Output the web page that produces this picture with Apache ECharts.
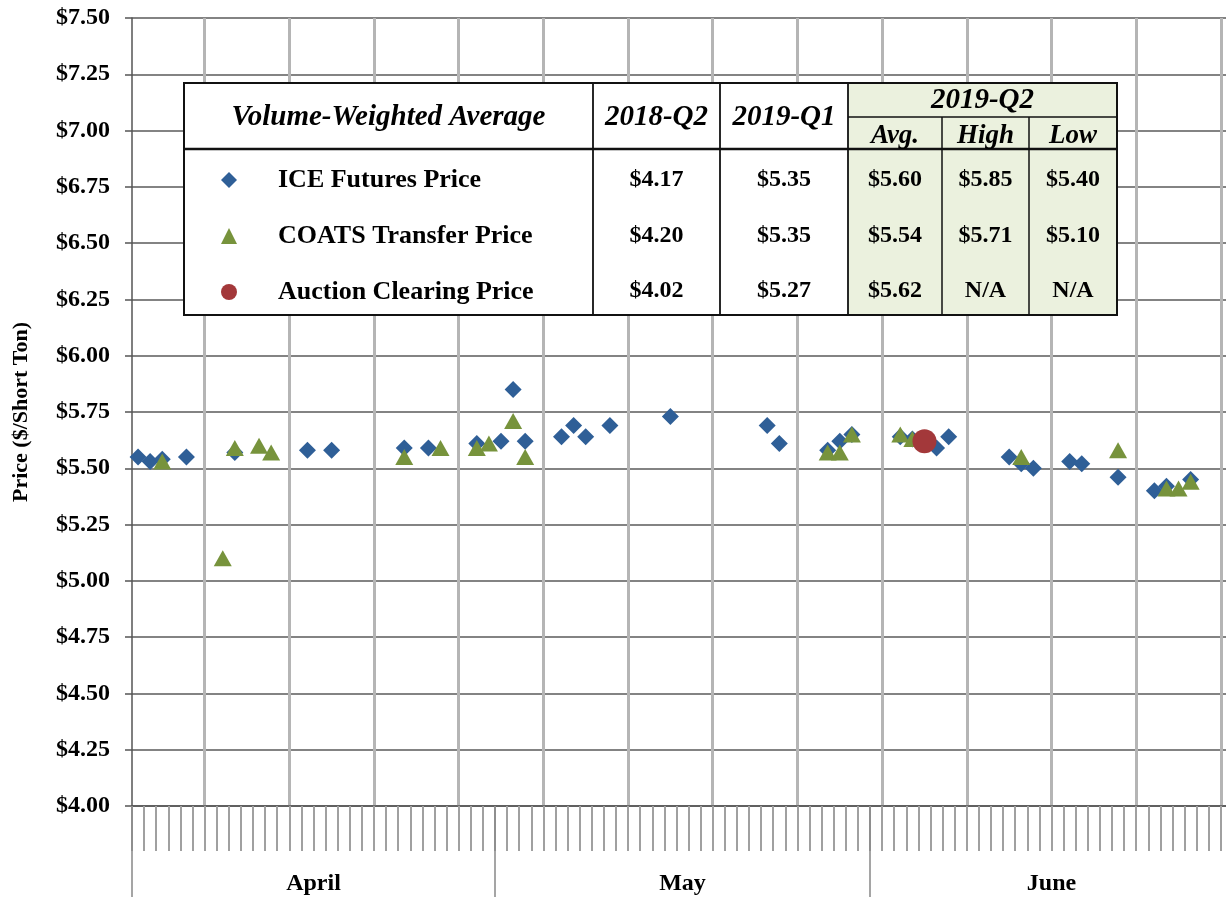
<!DOCTYPE html>
<html>
<head>
<meta charset="utf-8">
<title>Volume-Weighted Prices 2019-Q2</title>
<script src="https://cdn.jsdelivr.net/npm/echarts@6/dist/echarts.min.js"></script>
<style>
  html, body { margin: 0; padding: 0; background: #fff; }
  #chart { width: 1226px; height: 897px; }
</style>
</head>
<body>
<div id="chart"></div>
<script>
// months on the x axis
const months = ["April", "May", "June"];
const monthAbbr = ["Apr", "May", "Jun"];
const monthLengths = [30, 31, 30];

// ICE futures price (diamonds)
const iceDates = ["Apr 1", "Apr 2", "Apr 3", "Apr 5", "Apr 9", "Apr 15", "Apr 17", "Apr 23", "Apr 25", "Apr 29",
  "May 1", "May 2", "May 3", "May 6", "May 7", "May 8", "May 10", "May 15", "May 23", "May 24", "May 28", "May 29", "May 30",
  "Jun 3", "Jun 4", "Jun 6", "Jun 7", "Jun 12", "Jun 13", "Jun 14", "Jun 17", "Jun 18", "Jun 21", "Jun 24", "Jun 25", "Jun 27"];
const iceValues = [5.55, 5.53, 5.54, 5.55, 5.57, 5.58, 5.58, 5.59, 5.59, 5.61,
  5.62, 5.85, 5.62, 5.64, 5.69, 5.64, 5.69, 5.73, 5.69, 5.61, 5.58, 5.62, 5.65,
  5.64, 5.63, 5.59, 5.64, 5.55, 5.52, 5.50, 5.53, 5.52, 5.46, 5.40, 5.42, 5.45];

// COATS transfer price (triangles)
const coatsDates = ["Apr 3", "Apr 8", "Apr 9", "Apr 11", "Apr 12", "Apr 23", "Apr 26", "Apr 29", "Apr 30",
  "May 2", "May 3", "May 28", "May 29", "May 30",
  "Jun 3", "Jun 4", "Jun 5", "Jun 13", "Jun 21", "Jun 25", "Jun 26", "Jun 27"];
const coatsValues = [5.53, 5.10, 5.59, 5.60, 5.57, 5.55, 5.59, 5.59, 5.61,
  5.71, 5.55, 5.57, 5.57, 5.65,
  5.65, 5.63, 5.62, 5.55, 5.58, 5.41, 5.41, 5.44];

// auction clearing price (circle)
const auctionDates = ["Jun 5"];
const auctionValues = [5.62];

// y ticks
const yMin = 4, yMax = 7.5, yStep = 0.25;

// summary table
const seriesNames = ["ICE Futures Price", "COATS Transfer Price", "Auction Clearing Price"];
const avg2018Q2 = ["$4.17", "$4.20", "$4.02"];
const avg2019Q1 = ["$5.35", "$5.35", "$5.27"];
const avg2019Q2 = ["$5.60", "$5.54", "$5.62"];
const high2019Q2 = ["$5.85", "$5.71", "N/A"];
const low2019Q2 = ["$5.40", "$5.10", "N/A"];

// day categories
let days = [];
months.forEach((m, i) => {
  for (let d = 1; d <= monthLengths[i]; d++) days.push(monthAbbr[i] + " " + d);
});
let bounds = [0];
monthLengths.forEach(n => bounds.push(bounds[bounds.length - 1] + n));
let centers = monthLengths.map((n, i) => bounds[i] + n / 2);
const nDays = bounds[bounds.length - 1];

const serif = "Liberation Serif";
const myChart = echarts.init(document.getElementById("chart"));

// table drawn with graphic elements
const tX = [184, 593, 720, 848, 942, 1029, 1117];
const tTop = 83, tBottom = 315, tHead = 149, tSub = 117;
const rowY = [180, 236, 291];
let g = [];
const line = (x1, y1, x2, y2, w) => g.push({
  type: "line", z: 101, shape: { x1: x1, y1: y1, x2: x2, y2: y2 },
  style: { stroke: "#111", lineWidth: w }
});
const txt = (s, x, y, size, italic) => g.push({
  type: "text", z: 102, x: x, y: y,
  style: {
    text: s, align: "center", verticalAlign: "middle", fill: "#000",
    fontFamily: serif, fontWeight: "bold", fontStyle: italic ? "italic" : "normal", fontSize: size
  }
});
g.push({ type: "rect", z: 100, shape: { x: tX[0], y: tTop, width: tX[6] - tX[0], height: tBottom - tTop }, style: { fill: "#fff" } });
g.push({ type: "rect", z: 100, shape: { x: tX[3], y: tTop, width: tX[6] - tX[3], height: tBottom - tTop }, style: { fill: "#EBF1DE" } });
line(tX[0], tHead, tX[6], tHead, 2.5);
line(tX[3], tSub, tX[6], tSub, 1.5);
[1, 2, 3].forEach(i => line(tX[i], tTop, tX[i], tBottom, 1.8));
[4, 5].forEach(i => line(tX[i], tSub, tX[i], tBottom, 1.5));
g.push({ type: "rect", z: 101, shape: { x: tX[0], y: tTop, width: tX[6] - tX[0], height: tBottom - tTop }, style: { fill: "none", stroke: "#111", lineWidth: 2 } });
txt("Volume-Weighted Average", (tX[0] + tX[1]) / 2, 118, 29, true);
txt("2018-Q2", (tX[1] + tX[2]) / 2, 118, 29, true);
txt("2019-Q1", (tX[2] + tX[3]) / 2, 118, 29, true);
txt("2019-Q2", (tX[3] + tX[6]) / 2, 101, 29, true);
txt("Avg.", (tX[3] + tX[4]) / 2, 136, 27, true);
txt("High", (tX[4] + tX[5]) / 2, 136, 27, true);
txt("Low", (tX[5] + tX[6]) / 2, 136, 27, true);
[avg2018Q2, avg2019Q1, avg2019Q2, high2019Q2, low2019Q2].forEach((col, c) => {
  col.forEach((v, r) => txt(v, (tX[c + 1] + tX[c + 2]) / 2, rowY[r], 24, false));
});

let option = {
  animation: false,
  textStyle: { fontFamily: serif },
  grid: { left: 132, top: 18, width: 1101, bottom: 91, containLabel: false, outerBoundsMode: "none" },
  legend: {
    orient: "vertical",
    left: 221,
    top: 152,
    padding: 0,
    itemGap: 0,
    itemWidth: 16,
    itemHeight: 16,
    selectedMode: false,
    z: 105,
    textStyle: {
      fontFamily: serif, fontWeight: "bold", fontSize: 26, color: "#000",
      lineHeight: 56, padding: [0, 0, 0, 36]
    },
    data: [
      { name: seriesNames[0], icon: "diamond" },
      { name: seriesNames[1], icon: "triangle" },
      { name: seriesNames[2], icon: "circle" }
    ]
  },
  graphic: g,
  xAxis: [
    {
      // days: carries the points and the weekly grid lines
      type: "category",
      data: days,
      boundaryGap: true,
      axisLine: { lineStyle: { color: "#555", width: 1.5 } },
      axisTick: { show: false },
      axisLabel: { show: false },
      splitLine: {
        show: true,
        interval: (idx) => idx % 7 === 6,
        lineStyle: { color: "#b5b5b5", width: 3 }
      }
    },
    {
      // one tick per day
      type: "value",
      min: 0,
      max: nDays,
      interval: 1,
      position: "bottom",
      axisLine: { show: false },
      axisTick: { show: true, length: 45, lineStyle: { color: "#a0a0a0", width: 2 } },
      axisLabel: { show: false },
      splitLine: { show: false }
    },
    {
      // month separators and names
      type: "value",
      min: 0,
      max: nDays,
      position: "bottom",
      axisLine: { show: false },
      axisTick: { show: true, customValues: bounds.slice(0, -1), length: 91, lineStyle: { color: "#888", width: 1.5 } },
      axisLabel: {
        customValues: centers,
        margin: 66,
        fontFamily: serif, fontWeight: "bold", fontSize: 24, color: "#000",
        formatter: (v) => {
          let i = centers.findIndex(c => Math.abs(c - v) < 0.01);
          return i >= 0 ? months[i] : "";
        }
      },
      splitLine: { show: false }
    }
  ],
  yAxis: {
    type: "value",
    min: yMin,
    max: yMax,
    interval: yStep,
    name: "Price ($/Short Ton)",
    nameLocation: "middle",
    nameGap: 100,
    nameRotate: 90,
    nameTextStyle: { fontFamily: serif, fontWeight: "bold", fontSize: 22, color: "#000" },
    axisLine: { show: true, lineStyle: { color: "#555", width: 1.5 } },
    axisTick: { show: true, length: 7, lineStyle: { color: "#555", width: 1.5 } },
    axisLabel: {
      margin: 22,
      fontFamily: serif, fontWeight: "bold", fontSize: 24, color: "#000",
      formatter: v => "$" + v.toFixed(2)
    },
    splitLine: { lineStyle: { color: "#5a5a5a", width: 1.5 } }
  },
  series: [
    {
      name: seriesNames[0],
      type: "scatter",
      symbol: "diamond",
      symbolSize: [17, 17],
      itemStyle: { color: "#2F5F97", opacity: 1 },
      data: iceDates.map((d, i) => [d, iceValues[i]])
    },
    {
      name: seriesNames[1],
      type: "scatter",
      symbol: "triangle",
      symbolSize: [18, 16],
      itemStyle: { color: "#77933C", opacity: 1 },
      data: coatsDates.map((d, i) => [d, coatsValues[i]])
    },
    {
      name: seriesNames[2],
      type: "scatter",
      symbol: "circle",
      symbolSize: 24,
      itemStyle: { color: "#A3383A", opacity: 1 },
      data: auctionDates.map((d, i) => [d, auctionValues[i]])
    }
  ]
};
myChart.setOption(option);
</script>
</body>
</html>
